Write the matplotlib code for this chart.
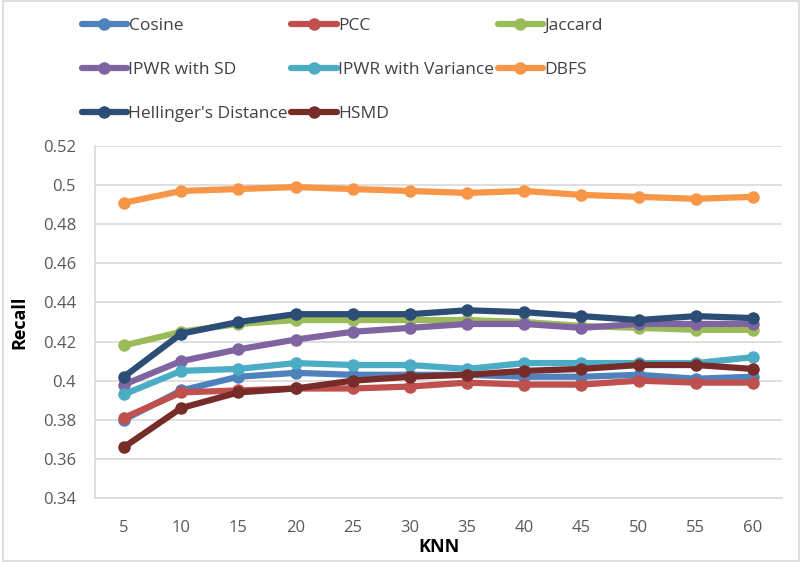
import matplotlib.pyplot as plt
from matplotlib.patches import Rectangle

knn = [5, 10, 15, 20, 25, 30, 35, 40, 45, 50, 55, 60]

cosine = [0.380, 0.395, 0.402, 0.404, 0.403, 0.403, 0.403, 0.402, 0.402, 0.403, 0.401, 0.402]
pcc = [0.381, 0.394, 0.395, 0.396, 0.396, 0.397, 0.399, 0.398, 0.398, 0.400, 0.399, 0.399]
jaccard = [0.418, 0.425, 0.429, 0.431, 0.431, 0.431, 0.431, 0.430, 0.428, 0.427, 0.426, 0.426]
ipwr_sd = [0.398, 0.410, 0.416, 0.421, 0.425, 0.427, 0.429, 0.429, 0.427, 0.429, 0.429, 0.429]
ipwr_var = [0.393, 0.405, 0.406, 0.409, 0.408, 0.408, 0.406, 0.409, 0.409, 0.409, 0.409, 0.412]
dbfs = [0.491, 0.497, 0.498, 0.499, 0.498, 0.497, 0.496, 0.497, 0.495, 0.494, 0.493, 0.494]
hellinger = [0.402, 0.424, 0.430, 0.434, 0.434, 0.434, 0.436, 0.435, 0.433, 0.431, 0.433, 0.432]
hsmd = [0.366, 0.386, 0.394, 0.396, 0.400, 0.402, 0.403, 0.405, 0.406, 0.408, 0.408, 0.406]

series = [
    ("Cosine", cosine, "#4f81bd"),
    ("PCC", pcc, "#c0504d"),
    ("Jaccard", jaccard, "#9bbb59"),
    ("IPWR with SD", ipwr_sd, "#8064a2"),
    ("IPWR with Variance", ipwr_var, "#4bacc6"),
    ("DBFS", dbfs, "#f79646"),
    ("Hellinger's Distance", hellinger, "#2c4d75"),
    ("HSMD", hsmd, "#772c2a"),
]

plt.rcParams['font.family'] = ['Open Sans', 'DejaVu Sans']

fig = plt.figure(figsize=(8.02, 5.62), dpi=100)
ax = fig.add_axes([95.4 / 802, 1 - 498 / 562, (781.6 - 95.4) / 802, (498 - 146) / 562])

x = list(range(len(knn)))
lines = {}
for name, vals, col in series:
    ln, = ax.plot(x, vals, color=col, lw=4.5, marker='o', ms=9,
                  markeredgewidth=0, solid_capstyle='round', label=name)
    lines[name] = ln

ax.set_xlim(-0.5, len(knn) - 0.5)
ax.set_ylim(0.34, 0.52)
ax.set_xticks(x)
ax.set_xticklabels([str(k) for k in knn])
ax.set_yticks([0.34 + 0.02 * i for i in range(10)])
ax.set_yticklabels(['0.34', '0.36', '0.38', '0.4', '0.42', '0.44', '0.46', '0.48', '0.5', '0.52'])
ax.tick_params(colors='#595959', labelsize=12, length=0)
ax.tick_params(axis='x', pad=16)
ax.tick_params(axis='y', pad=14)
ax.grid(axis='y', color='#d9d9d9', lw=1.2)
ax.set_axisbelow(True)
for s in ['top', 'right']:
    ax.spines[s].set_visible(False)
for s in ['left', 'bottom']:
    ax.spines[s].set_color('#d9d9d9')
    ax.spines[s].set_linewidth(1.2)

ax.set_ylabel('Recall', fontsize=13, fontweight='bold', labelpad=10)
ax.set_xlabel('KNN', fontsize=13, fontweight='bold', labelpad=1)

order = ["Cosine", "IPWR with SD", "Hellinger's Distance",
         "PCC", "IPWR with Variance", "HSMD",
         "Jaccard", "DBFS"]
fig.legend([lines[n] for n in order], order, ncol=3, loc='upper left',
           bbox_to_anchor=(66 / 802, 1 - 2 / 562), frameon=False,
           fontsize=12.5, handlelength=2.6, handletextpad=0.1,
           columnspacing=0.2, labelspacing=1.62, labelcolor='#404040')

fig.patches.append(Rectangle((0.004, 0.002), 0.992, 0.996, transform=fig.transFigure,
                             fill=False, edgecolor='#d9d9d9', lw=1.2))

fig.savefig('out.png', dpi=100)
